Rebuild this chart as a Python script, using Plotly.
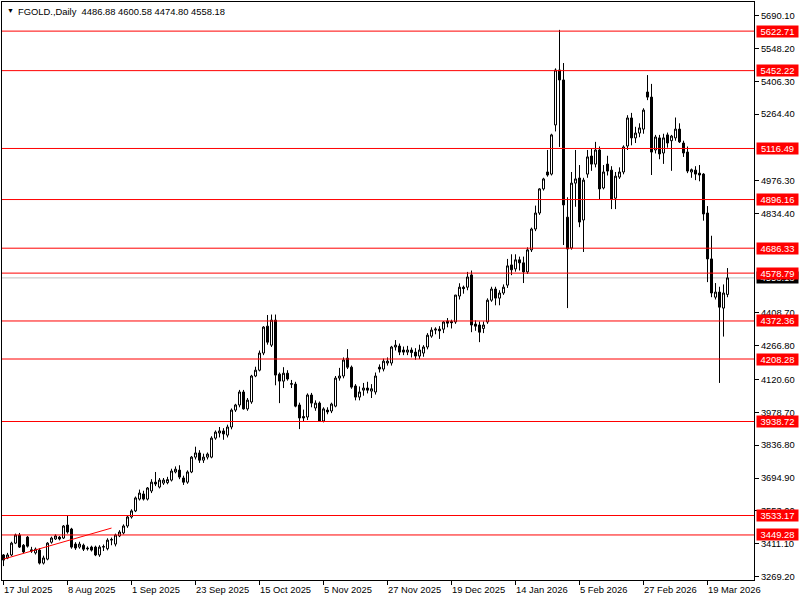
import plotly.graph_objects as go

# ---------------- data ----------------
opens = [
    3363, 3350, 3363, 3414, 3449, 3405, 3440, 3385, 3372, 3384,
    3328, 3345, 3418, 3432, 3440, 3436, 3492, 3475, 3410, 3397,
    3405, 3393, 3397, 3397, 3363, 3397, 3390, 3427, 3410, 3445,
    3458, 3488, 3527, 3553, 3604, 3626, 3604, 3639, 3677, 3656,
    3673, 3675, 3686, 3721, 3729, 3695, 3677, 3721, 3785, 3803,
    3772, 3785, 3785, 3867, 3889, 3898, 3880, 3915, 3988, 4010,
    4066, 3993, 4023, 4135, 4160, 4234, 4350, 4268, 4376, 4143,
    4113, 4147, 4102, 4100, 4010, 3960, 3958, 4053, 3997, 4018,
    3941, 3988, 3984, 4005, 4126, 4135, 4212, 4173, 4092, 4044,
    4074, 4083, 4070, 4066, 4173, 4165, 4191, 4191, 4260, 4264,
    4247, 4238, 4247, 4238, 4221, 4234, 4260, 4307, 4333, 4337,
    4337, 4372, 4370, 4368, 4480, 4518, 4518, 4571, 4359, 4355,
    4340, 4368, 4462, 4510, 4471, 4493, 4527, 4614, 4597, 4636,
    4623, 4584, 4679, 4769, 4838, 4942, 5015, 5006, 5218, 5455,
    5412, 4820, 4687, 4967, 4989, 4808, 5006, 5084, 5049, 5110,
    4946, 5049, 5023, 4902, 4993, 5015, 5127, 5248, 5162, 5183,
    5200, 5360, 5338, 5110, 5162, 5097, 5175, 5150, 5162, 5200,
    5140, 5101, 5015, 5023, 5010, 5006, 4838, 4640, 4475, 4497,
    4428, 4486.88,
]
highs = [
    3367, 3372, 3420, 3455, 3458, 3410, 3445, 3398, 3395, 3392,
    3360, 3418, 3442, 3452, 3445, 3492, 3535, 3480, 3418, 3420,
    3412, 3400, 3403, 3403, 3405, 3408, 3435, 3438, 3455, 3470,
    3495, 3532, 3560, 3615, 3645, 3640, 3656, 3690, 3721, 3695,
    3695, 3700, 3735, 3745, 3750, 3705, 3728, 3790, 3830, 3815,
    3800, 3805, 3875, 3900, 3915, 3910, 3925, 3995, 4015, 4075,
    4075, 4040, 4140, 4175, 4245, 4350, 4398, 4400, 4400, 4150,
    4173, 4160, 4118, 4110, 4020, 3990, 4060, 4062, 4030, 4025,
    4000, 4000, 4020, 4135, 4170, 4215, 4251, 4180, 4100, 4090,
    4105, 4110, 4100, 4150, 4185, 4210, 4215, 4265, 4290, 4275,
    4262, 4265, 4258, 4255, 4270, 4268, 4320, 4345, 4345, 4350,
    4372, 4385, 4378, 4485, 4535, 4525, 4584, 4590, 4375, 4370,
    4370, 4470, 4520, 4520, 4505, 4530, 4640, 4660, 4660, 4650,
    4650, 4690, 4775, 4870, 4945, 4990, 5110, 5180, 5462, 5628,
    5485, 4906, 5015, 5110, 5045, 4990, 5110, 5118, 5145, 5125,
    5045, 5085, 5040, 5015, 5035, 5130, 5260, 5270, 5210, 5225,
    5290, 5433, 5395, 5175, 5175, 5180, 5185, 5175, 5250, 5225,
    5150, 5125, 5030, 5040, 5045, 5010, 4868, 4740, 4536, 4520,
    4530, 4600.58,
]
lows = [
    3315, 3345, 3358, 3410, 3393, 3370, 3395, 3372, 3365, 3322,
    3322, 3340, 3412, 3428, 3426, 3432, 3455, 3390, 3385, 3390,
    3380, 3382, 3378, 3358, 3355, 3380, 3383, 3405, 3400, 3440,
    3452, 3480, 3520, 3548, 3598, 3598, 3598, 3630, 3660, 3650,
    3665, 3668, 3680, 3715, 3690, 3665, 3670, 3716, 3775, 3760,
    3760, 3775, 3780, 3860, 3870, 3860, 3870, 3905, 3980, 4000,
    3990, 3985, 4015, 4130, 4155, 4225, 4270, 4260, 4095, 4018,
    4083, 4115, 4083, 4000, 3906, 3940, 3945, 4000, 3985, 3938,
    3935, 3970, 3975, 4000, 4115, 4125, 4165, 4080, 4030, 4030,
    4050, 4060, 4040, 4055, 4150, 4155, 4180, 4180, 4245, 4225,
    4225, 4225, 4215, 4205, 4208, 4218, 4250, 4300, 4315, 4295,
    4320, 4345, 4340, 4360, 4465, 4490, 4505, 4324, 4330, 4281,
    4320, 4360, 4455, 4440, 4440, 4485, 4515, 4570, 4585, 4590,
    4536, 4575, 4670, 4760, 4830, 4935, 4995, 5000, 5190, 5123,
    4700, 4428, 4680, 4865, 4777, 4670, 4990, 5020, 5035, 4898,
    4940, 5000, 4855, 4855, 4985, 5005, 5110, 5130, 5140, 5165,
    5180, 5325, 5002, 5095, 5070, 5050, 5120, 5020, 5150, 5140,
    5080, 5010, 4990, 4980, 4975, 4805, 4540, 4475, 4465, 4105,
    4305, 4474.80,
]
closes = [
    3341, 3363, 3414, 3449, 3397, 3376, 3401, 3380, 3388, 3328,
    3350, 3414, 3436, 3445, 3432, 3488, 3462, 3397, 3393, 3410,
    3388, 3390, 3384, 3363, 3397, 3399, 3427, 3430, 3449, 3462,
    3488, 3527, 3553, 3609, 3630, 3604, 3652, 3677, 3669, 3686,
    3686, 3688, 3725, 3733, 3699, 3677, 3721, 3785, 3803, 3772,
    3785, 3798, 3867, 3893, 3898, 3885, 3915, 3988, 4010, 4066,
    3993, 4031, 4135, 4160, 4234, 4346, 4281, 4376, 4139, 4113,
    4147, 4122, 4100, 4005, 3954, 3954, 4053, 4018, 4018, 3941,
    3993, 3980, 4014, 4126, 4135, 4204, 4173, 4087, 4044, 4066,
    4083, 4074, 4080, 4135, 4165, 4199, 4199, 4260, 4268, 4238,
    4238, 4247, 4236, 4221, 4247, 4260, 4311, 4333, 4337, 4330,
    4368, 4363, 4365, 4484, 4518, 4512, 4562, 4355, 4350, 4324,
    4355, 4462, 4510, 4471, 4493, 4518, 4610, 4593, 4636, 4623,
    4584, 4679, 4769, 4838, 4942, 4985, 5002, 5175, 5455, 5412,
    4873, 4683, 4967, 4985, 4799, 4980, 5080, 5049, 5110, 4942,
    5015, 5019, 4898, 4997, 5015, 5123, 5248, 5162, 5183, 5205,
    5282, 5338, 5101, 5166, 5093, 5162, 5140, 5170, 5200, 5145,
    5097, 5019, 5025, 5006, 5002, 4834, 4640, 4493, 4497, 4432,
    4493, 4558.18,
]

# date labels on the time axis (bar index of each label)
date_tick_index = [0, 16, 32, 48, 64, 80, 96, 112, 128, 144, 160, 176]
date_tick_labels = ["17 Jul 2025", "8 Aug 2025", "1 Sep 2025", "23 Sep 2025",
                    "15 Oct 2025", "5 Nov 2025", "27 Nov 2025", "19 Dec 2025",
                    "14 Jan 2026", "5 Feb 2026", "27 Feb 2026", "19 Mar 2026"]

# price scale labels
price_ticks = [5690.10, 5548.20, 5406.30, 5264.40, 4976.30, 4834.40,
               4408.70, 4266.80, 4120.60, 3978.70, 3836.80,
               3694.90, 3553.00, 3411.10, 3269.20]

# horizontal support / resistance levels
levels = [5622.71, 5452.22, 5116.49, 4896.16, 4686.33, 4578.79,
          4372.36, 4208.28, 3938.72, 3533.17, 3449.28]

bid_price = 4558.18
trend_x = [0, 27]
trend_y = [3345, 3479]

title_text = "FGOLD.,Daily\u00a0\u00a04486.88 4600.58 4474.80 4558.18"

# ---------------- figure ----------------
FONT = "Liberation Sans, Arial, sans-serif"
FS = 9.4
x = list(range(len(opens)))

fig = go.Figure()
fig.add_trace(go.Candlestick(
    x=x, open=opens, high=highs, low=lows, close=closes,
    increasing=dict(line=dict(color="black", width=1), fillcolor="white"),
    decreasing=dict(line=dict(color="black", width=1), fillcolor="black"),
    whiskerwidth=0, hoverinfo="skip", showlegend=False,
))
fig.add_trace(go.Scatter(
    x=trend_x, y=trend_y, mode="lines",
    line=dict(color="#FF0000", width=1), hoverinfo="skip", showlegend=False,
))

shapes = [dict(type="line", xref="paper", x0=0, x1=1, yref="y",
               y0=bid_price, y1=bid_price, line=dict(color="#C0C0C0", width=1),
               layer="below")]
for lv in levels:
    shapes.append(dict(type="line", xref="paper", x0=0, x1=1, yref="y",
                       y0=lv, y1=lv, line=dict(color="#FF0000", width=1),
                       layer="above"))

annotations = []
# bid price label (black)
annotations.append(dict(
    xref="paper", x=1, xanchor="left", xshift=2, yref="y", y=bid_price,
    text=f"{bid_price:.2f}", showarrow=False, bgcolor="black",
    font=dict(family=FONT, size=FS, color="white"), width=41, height=11,
    borderpad=0))
for lv in levels:
    annotations.append(dict(
        xref="paper", x=1, xanchor="left", xshift=2, yref="y", y=lv,
        text=f"{lv:.2f}", showarrow=False, bgcolor="#FF0000",
        font=dict(family=FONT, size=FS, color="white"), width=41, height=11,
        borderpad=0))
for idx, lab in zip(date_tick_index, date_tick_labels):
    annotations.append(dict(
        xref="x", x=idx, xanchor="left", xshift=-2, yref="paper", y=0,
        yanchor="top", yshift=-2, text=lab, showarrow=False,
        font=dict(family=FONT, size=FS, color="black")))
annotations.append(dict(
    xref="paper", x=0, xanchor="left", xshift=3, yref="paper", y=1,
    yanchor="top", yshift=-3, text="\u25BC", showarrow=False,
    font=dict(family=FONT, size=7, color="black")))
annotations.append(dict(
    xref="paper", x=0, xanchor="left", xshift=14, yref="paper", y=1,
    yanchor="top", yshift=-2, text=title_text, showarrow=False,
    font=dict(family=FONT, size=FS, color="black")))

fig.update_layout(
    width=800, height=600,
    margin=dict(l=2, r=46, t=2, b=20),
    paper_bgcolor="white", plot_bgcolor="white",
    shapes=shapes, annotations=annotations,
    font=dict(family=FONT, size=FS, color="black"),
    boxgap=0.5, boxgroupgap=0,
    xaxis=dict(
        range=[-0.375, 187.625], rangeslider=dict(visible=False),
        tickmode="array", tickvals=date_tick_index, showticklabels=False,
        ticks="outside", ticklen=4, tickcolor="black",
        showline=True, linecolor="black", linewidth=1, mirror=True,
        showgrid=False, zeroline=False, fixedrange=True,
    ),
    yaxis=dict(
        side="right", range=[3255.0, 5748.3],
        tickmode="array", tickvals=price_ticks,
        ticktext=[f"{v:.2f}" for v in price_ticks],
        ticks="outside", ticklen=4, tickcolor="black",
        tickfont=dict(family=FONT, size=FS, color="black"),
        showline=True, linecolor="black", linewidth=1, mirror=True,
        showgrid=False, zeroline=False, fixedrange=True,
    ),
    hovermode=False,
)

fig.write_html(
    "out.html",
    config={"displayModeBar": False, "staticPlot": True},
    post_script="document.body.style.margin='0px';document.body.style.overflow='hidden';",
)
